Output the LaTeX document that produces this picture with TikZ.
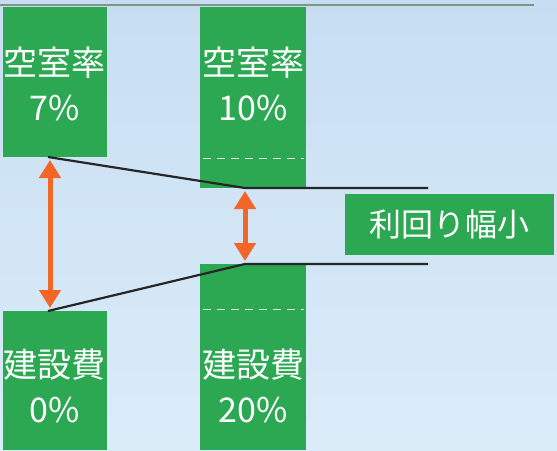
\documentclass[tikz,border=0pt]{standalone}
\usepackage{fontspec}
\setmainfont{Noto Sans CJK JP}
\usetikzlibrary{arrows.meta,positioning}
\definecolor{boxgreen}{RGB}{44,168,82}
\definecolor{arroworange}{RGB}{242,102,40}
\definecolor{skytop}{RGB}{199,222,242}
\definecolor{skybottom}{RGB}{219,236,249}
\definecolor{rimgray}{RGB}{125,150,135}

\begin{document}
\begin{tikzpicture}[x=1pt,y=-1pt,
    greenbox/.style={fill=boxgreen, draw=none, inner sep=0pt, anchor=north west},
    boxtext/.style={text=white, font=\fontsize{34}{45}\selectfont, align=center},
    level/.style={line width=2.2pt, black!85},
    gapline/.style={white!85!boxgreen, line width=1pt, dash pattern=on 8pt off 6pt},
    spread/.style={arroworange, line width=5pt, {Triangle[width=21pt,length=18pt]}-{Triangle[width=21pt,length=18pt]}}]
    % background
    \shade[top color=skytop, bottom color=skybottom] (0,0) rectangle (557,450);
    \useasboundingbox (0,0) rectangle (557,450);
    \draw[rimgray, line width=1.2pt] (0,5) -- (534,5);

    % boxes
    \node[greenbox, minimum width=104pt, minimum height=150pt] (vacA) at (3,7) {};
    \node[greenbox, minimum width=106pt, minimum height=181pt] (vacB) at (200,7) {};
    \node[greenbox, minimum width=104pt, minimum height=139pt] (costA) at (3,311) {};
    \node[greenbox, minimum width=106pt, minimum height=186pt] (costB) at (200,264) {};
    \draw[gapline] (203,158) -- (304,158);
    \draw[gapline] (203,309) -- (304,309);

    % labels
    \node[boxtext] (vacAtext) at (55,84) {空室率\\7\%};
    \node[boxtext] (vacBtext) at (253,84) {空室率\\10\%};
    \node[boxtext] (costAtext) at (55,386) {建設費\\0\%};
    \node[boxtext] (costBtext) at (253,386) {建設費\\20\%};

    % yield lines
    \coordinate (upA) at (48,157);
    \coordinate (upB) at (245,188);
    \coordinate (upEnd) at (428,188);
    \coordinate (loA) at (48,311);
    \coordinate (loB) at (245,264);
    \coordinate (loEnd) at (428,264);
    \draw[level] (upA) -- (upB) -- (upEnd);
    \draw[level] (loA) -- (loB) -- (loEnd);

    % spreads
    \draw[spread] (50,160) -- (50,308);
    \draw[spread] (245,191) -- (245,261);

    \node[fill=boxgreen, minimum width=209pt, minimum height=61pt, inner sep=0pt,
          text=white, font=\fontsize{32}{36}\selectfont] (narrow) at (449.5,224.5) {利回り幅小};
\end{tikzpicture}
\end{document}
